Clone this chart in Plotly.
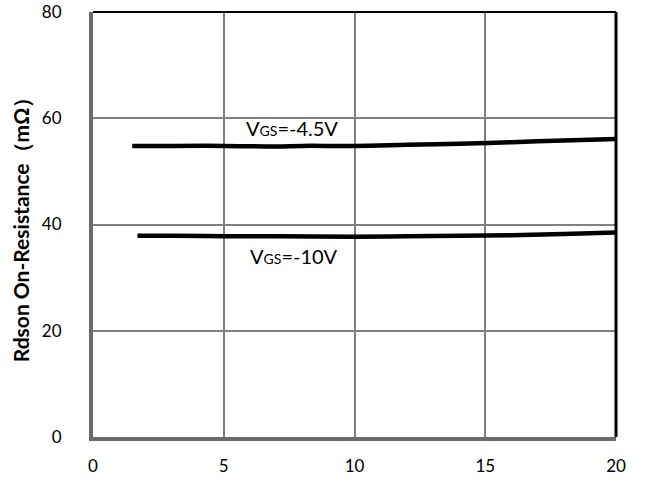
import plotly.graph_objects as go

# Drain current (A) vs on-resistance (mOhm) for two gate drives
id_vgs45 = [1.5, 3, 5, 7, 8, 10, 12, 14, 16, 18, 20]
rds_vgs45 = [54.8, 54.8, 54.8, 54.7, 54.8, 54.8, 55.0, 55.2, 55.5, 55.8, 56.1]

id_vgs10 = [1.7, 3, 5, 7, 10, 12, 14, 16, 18, 20]
rds_vgs10 = [37.9, 37.9, 37.8, 37.8, 37.7, 37.8, 37.9, 38.0, 38.2, 38.5]

x_ticks = [0, 5, 10, 15, 20]
y_ticks = [0, 20, 40, 60, 80]

FONT = "Lato, 'Open Sans', sans-serif"

fig = go.Figure()
fig.add_trace(go.Scatter(x=id_vgs45, y=rds_vgs45, mode="lines",
                         line=dict(color="black", width=4.5, shape="spline"),
                         showlegend=False))
fig.add_trace(go.Scatter(x=id_vgs10, y=rds_vgs10, mode="lines",
                         line=dict(color="black", width=4.5, shape="spline"),
                         showlegend=False))

fig.update_layout(
    width=646, height=481,
    margin=dict(l=93, r=30, t=12, b=44, autoexpand=False),
    paper_bgcolor="white", plot_bgcolor="white",
    font=dict(family=FONT, size=17, color="black"),
    xaxis=dict(range=[0, 20], tickvals=x_ticks, showgrid=True,
               gridcolor="#808080", gridwidth=2, zeroline=False,
               showline=True, linecolor="#6a6a6a", linewidth=4,
               ticks="", ticklabelstandoff=11, automargin=False,
               tickfont=dict(size=17, family=FONT)),
    yaxis=dict(range=[0, 80], tickvals=y_ticks, showgrid=True,
               gridcolor="#808080", gridwidth=2, zeroline=False,
               showline=True, linecolor="#6a6a6a", linewidth=4,
               ticks="", ticklabelstandoff=24, automargin=False,
               tickfont=dict(size=17, family=FONT),
               title=dict(text="<b>Rdson On-Resistance（mΩ）</b>",
                          font=dict(size=21, family=FONT), standoff=8)),
    shapes=[
        dict(type="line", xref="paper", yref="paper", x0=0, x1=1, y0=1, y1=1,
             line=dict(color="black", width=2)),
        dict(type="line", xref="paper", yref="paper", x0=1, x1=1, y0=0, y1=1,
             line=dict(color="black", width=3)),
    ],
    annotations=[
        dict(x=9.45, y=55.6, xref="x", yref="y", xanchor="right", yanchor="bottom",
             text="V<span style='font-size:14px'>GS</span>=-4.5V", showarrow=False,
             font=dict(size=20, family=FONT)),
        dict(x=9.45, y=36.8, xref="x", yref="y", xanchor="right", yanchor="top",
             text="V<span style='font-size:14px'>GS</span>=-10V", showarrow=False,
             font=dict(size=20, family=FONT)),
    ],
)

fig.write_html("out.html")
